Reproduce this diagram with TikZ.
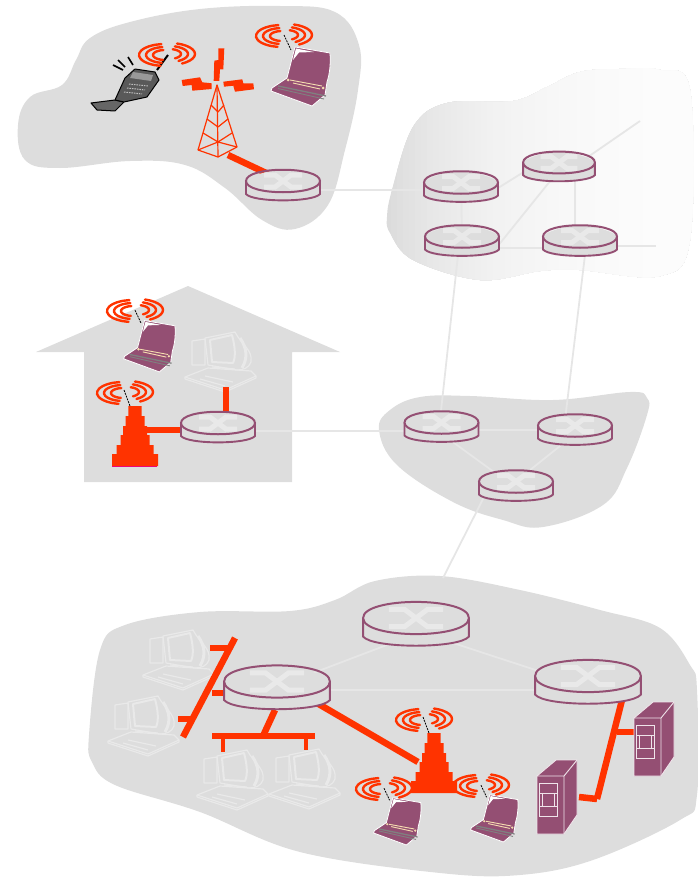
\documentclass[tikz,border=0pt]{standalone}
\definecolor{cloudgrey}{HTML}{DDDDDD}
\definecolor{linkpale}{HTML}{E6E6E6}
\definecolor{plum}{HTML}{944F73}
\definecolor{hot}{HTML}{FF3300}
\definecolor{palewhite}{HTML}{E9E9E9}
\definecolor{keytan}{HTML}{F5DDB0}
\tikzset{
  cloud/.style={fill=cloudgrey,draw=none},
  graylink/.style={draw=linkpale,line width=1.8pt},
  redlink/.style={draw=hot,line width=6.5pt},
  redthin/.style={draw=hot,line width=4pt},
  pics/routerpic/.style={code={
    \path[fill=cloudgrey] (-37,0) -- (-37,13) .. controls (-30,21.5) and (30,21.5) .. (37,13) -- (37,0) -- cycle;
    \draw[draw=plum,line width=1.9pt,fill=cloudgrey] (-37,0) -- (-37,13) .. controls (-30,21.5) and (30,21.5) .. (37,13) -- (37,0);
    \fill[cloudgrey] plot[smooth cycle,tension=.6] coordinates {(-37,0) (0,-11.5) (37,0) (0,11.5)};
    \draw[palewhite,line width=5pt] (-19,-6) -- (-8,-6) -- (8,6) -- (19,6);
    \draw[palewhite,line width=5pt] (-19,6) -- (-8,6) -- (8,-6) -- (19,-6);
    \draw[draw=plum,line width=2pt] (-37,0) .. controls (-37,-15) and (37,-15) .. (37,0) .. controls (37,15) and (-37,15) .. (-37,0) -- cycle;
  }},
  pics/wavepic/.style={code={
    \foreach \rr/\ss in {26/11,19/8,12/5}{
      \draw[hot,line width=2.4pt,line cap=round] plot[smooth,domain=100:262,samples=12] ({\rr*cos(\x)-2},{\ss*sin(\x)});
      \draw[hot,line width=2.4pt,line cap=round] plot[smooth,domain=-72:60,samples=12] ({\rr*cos(\x)+2},{\ss*sin(\x)-1});
    }
  }},
  pics/laptoppic/.style={code={
    \draw[white,line width=.8pt,fill=plum] (11,11) -- (46,17) .. controls (47,30) and (45,40) .. (43,46) -- (41,59) -- (28,70) -- (-13,55) -- (-12,52) -- (3,42) -- cycle;
    \fill[white] (12,12.5) -- (30,16) -- (15,16.5) -- (9,24) -- cycle;
    \draw[black,line width=.8pt,dash pattern=on 2pt off 1pt] (0,-1) -- (7,14);
    \draw[gray,line width=1.3pt] (-6,50) -- (42,60);
    \draw[gray,line width=.9pt] (-6,52.5) -- (40,63);
    \draw[keytan,line width=.9pt] (6,44) -- (38,50);
    \draw[keytan,line width=.9pt] (9,47) -- (36,53);
    \fill[keytan] (4,44) circle[radius=1.5] (39,52) circle[radius=1.5];
    \pic {wavepic};
  }},
  pics/desktoppic/.style={code={
    \begin{scope}[draw=palewhite,line width=1.2pt,line join=round]
      \draw (7,9) -- (20,7) -- (20,33) -- (7,33) -- cycle;
      \draw (20,6) -- (50,0) .. controls (56,12) and (68,18) .. (66,30) .. controls (64,36) and (58,38) .. (52,38) -- (23,33) -- cycle;
      \draw[line width=2pt] (25,8) -- (47,3) .. controls (50,14) and (51,25) .. (48,31) -- (27,30) -- cycle;
      \draw[line width=3pt] (55,6) .. controls (62,16) and (63,26) .. (57,36);
      \draw (0,45) -- (23,36) -- (66,39) -- (71,44) -- (40,58) -- cycle;
      \draw (0,45) -- (0,47) -- (40,60) -- (71,46) -- (71,44);
      \draw (20,44) -- (48,50);
      \draw (15,47) -- (40,54);
      \draw (27,35) -- (50,37);
    \end{scope}
  }},
  pics/serverpic/.style={code={
    \draw[white!85!plum,line width=.9pt,fill=plum,line join=round] (0,0) -- (19,-16) -- (40,-16) -- (40,39) -- (27,58) -- (0,58) -- cycle;
    \draw[white!85!plum,line width=.9pt] (0,0) -- (27,0) -- (40,-16) (27,0) -- (27,58);
    \draw[white!85!plum,line width=1pt] (2.5,7) rectangle (20.5,40.5) (2.5,17) -- (20.5,17) (2.5,30) -- (20.5,30);
    \draw[white!85!plum,line width=1pt] (5.5,17.5) rectangle (17,30);
  }},
  pics/apcone/.style={code={
    \fill[hot] (-6.7,0) -- (6.7,0) -- (6.7,10) -- (9.5,10) -- (9.5,20) -- (12,20) -- (12,29) -- (14.5,29) -- (14.5,39) -- (18.5,39) -- (18.5,48) -- (23,48) -- (23,60) -- (-23,60) -- (-23,48) -- (-18.5,48) -- (-18.5,39) -- (-14.5,39) -- (-14.5,29) -- (-12,29) -- (-12,20) -- (-9.5,20) -- (-9.5,10) -- (-6.7,10) -- cycle;
    \draw[black,line width=.8pt,dash pattern=on 2pt off 1pt] (-11,-16) -- (-5,0);
    \pic at (-10,-13) {wavepic};
  }}
}
\begin{document}
\begin{tikzpicture}[x=1pt,y=-1pt]
\useasboundingbox (0,0) rectangle (697,880);

% access-network clouds
\fill[cloud] plot[smooth cycle,tension=.65] coordinates {(18,125) (30,97) (62,85) (76,60) (90,38) (130,22) (200,9) (280,6) (335,12) (359,45) (358,90) (345,150) (328,205) (295,229) (262,220) (225,188) (185,165) (130,161) (60,168) (25,160)};
% core cloud: banded fade from grey on the left to white on the right
\foreach \bx in {385,391,...,679}{
  \pgfmathsetmacro{\bp}{14*exp(-(\bx-385)/110)}
  \begin{scope}
    \clip (\bx,60) rectangle (700,290);
    \fill[black!\bp!white] plot[smooth cycle,tension=.6] coordinates {(387,217) (392,190) (413,127) (447,103) (513,101) (547,87) (580,72) (620,69) (660,70) (690,90) (690,240) (660,276) (580,270) (540,271) (480,280) (413,260) (390,233)};
  \end{scope}
}
\fill[cloud] (188,286) -- (340,352) -- (292,352) -- (292,482) -- (84,482) -- (84,352) -- (36,352) -- cycle;
\fill[cloud] plot[smooth cycle,tension=.65] coordinates {(379,430) (390,410) (420,397) (470,396) (553,400) (630,392) (647,398) (647,415) (627,468) (603,505) (543,527) (503,520) (453,502) (397,465)};
\fill[cloud] plot[smooth cycle,tension=.6] coordinates {(89,735) (100,650) (125,625) (200,612) (290,611) (335,600) (375,581) (440,576) (520,590) (600,610) (660,628) (690,665) (697,690) (697,795) (680,820) (593,860) (520,875) (440,873) (300,852) (200,812) (115,785) (92,762)};

% named places
\coordinate (ra) at (283,181);
\coordinate (c1) at (461,182.5);
\coordinate (c2) at (559,162.5);
\coordinate (c3) at (462,236.5);
\coordinate (c4) at (580,236.5);
\coordinate (m1) at (441.5,422.5);
\coordinate (m2) at (575,425.5);
\coordinate (m3) at (516,481.5);
\coordinate (rh) at (218,423);
\coordinate (b1) at (416,618);
\coordinate (b2) at (277,681.5);
\coordinate (b3) at (588,676);
\coordinate (c2end) at (640,121);
\coordinate (c4end) at (656,246);
\coordinate (lanend) at (443,578);
\coordinate (ap1) at (434,733);
\coordinate (ap2) at (135,406);
\coordinate (towerfoot) at (228,155);
\coordinate (lan1a) at (235,638);
\coordinate (lan1b) at (183,737);
\coordinate (lan2a) at (212,736);
\coordinate (lan2b) at (315,736);
\coordinate (srv) at (597,799);
% connection ports, hidden behind the routers
\coordinate (raE) at (300,190);
\coordinate (c1W) at (440,190);
\coordinate (c1E) at (490,193);
\coordinate (c2W) at (535,165);
\coordinate (c2E) at (585,159);
\coordinate (c2S) at (555,175);
\coordinate (c2B) at (575,170);
\coordinate (c3E) at (490,248);
\coordinate (c3R) at (497,247);
\coordinate (c4N) at (575,232);
\coordinate (c4W) at (560,248);
\coordinate (c4E) at (610,246);
\coordinate (c3S) at (458,255);
\coordinate (c4S) at (585,255);
\coordinate (m1N) at (440,420);
\coordinate (m2N) at (565,420);
\coordinate (m1E) at (465,430);
\coordinate (m2W) at (560,430);
\coordinate (m1S) at (450,440);
\coordinate (m3W) at (505,480);
\coordinate (m2S) at (565,442);
\coordinate (m3E) at (520,478);
\coordinate (rhE) at (240,431);
\coordinate (m1W) at (420,431);
\coordinate (m3S) at (485,495);
\coordinate (b1W) at (400,640);
\coordinate (b2N) at (300,678);
\coordinate (b1E) at (450,642);
\coordinate (b3W) at (560,678);
\coordinate (b2E) at (310,690);
\coordinate (b3L) at (550,690);
\coordinate (homeW) at (146,430);
\coordinate (homeR) at (195,430);
\coordinate (homeT) at (226,387);
\coordinate (homeB) at (226,420);
\coordinate (apin) at (418,762);
\coordinate (b2R) at (310,699);
\coordinate (b3F) at (622,700);
\coordinate (b2L) at (250,693);
\coordinate (b2F) at (275,710);

% pale links
\draw[graylink] (raE) -- (c1W);
\draw[graylink] (c1E) -- (c2W);
\draw[graylink] (c1) -- (c3);
\draw[graylink] (c2B) -- (c4N);
\draw[graylink] (c3E) -- (c4W);
\draw[graylink] (c3R) -- (c2S);
\draw[graylink] (c2E) -- (c2end);
\draw[graylink] (c4E) -- (c4end);
\draw[graylink] (c3S) -- (m1N);
\draw[graylink] (c4S) -- (m2N);
\draw[graylink] (m1E) -- (m2W);
\draw[graylink] (m1S) -- (m3W);
\draw[graylink] (m2S) -- (m3E);
\draw[graylink] (rhE) -- (m1W);
\draw[graylink] (m3S) -- (lanend);
\draw[graylink] (b1W) -- (b2N);
\draw[graylink] (b1E) -- (b3W);
\draw[graylink] (b2E) -- (b3L);

% desktops under the red links
\pic at (185,332) {desktoppic};
\pic at (143,630) {desktoppic};
\pic at (108,696) {desktoppic};
\pic at (197,750) {desktoppic};
\pic at (269,749) {desktoppic};

% red links
\draw[redlink] (towerfoot) -- (ra);
\draw[redlink] (homeW) -- (homeR);
\draw[redlink] (homeT) -- (homeB);
\draw[redlink] (b2R) -- (apin);
\draw[redlink] (lan1a) -- (lan1b);
\draw[redlink] (210,648) -- (228,648);
\draw[redlink] (212,693) -- (b2L);
\draw[redlink] (178,719) -- (190,719);
\draw[redlink] (lan2a) -- (lan2b);
\draw[redlink] (b2F) -- (263,736);
\draw[redthin] (223,736) -- (223,752);
\draw[redthin] (306,736) -- (306,750);
\draw[redlink] (b3F) -- (srv);
\draw[redlink] (617,732) -- (634,732);
\draw[redlink] (579,797) -- (srv);

% routers
\pic at (ra) {routerpic};
\pic at (c1) {routerpic};
\pic[scale=.97] at (c2) {routerpic};
\pic at (c3) {routerpic};
\pic at (c4) {routerpic};
\pic at (m1) {routerpic};
\pic at (m2) {routerpic};
\pic at (m3) {routerpic};
\pic at (rh) {routerpic};
\pic[scale=1.43] at (b1) {routerpic};
\pic[scale=1.43] at (b2) {routerpic};
\pic[scale=1.43] at (b3) {routerpic};

% radio tower
\fill[hot] (218.3,48.3) -- (224.3,48.3) -- (223.3,69.3) -- (220,69.3) -- (219.3,81) -- (213.7,81) -- (214.3,60.7) -- (218.3,60) -- cycle;
\fill[hot] (181.7,80) -- (200,77.3) -- (202.3,82.3) -- (211.7,83.3) -- (211.7,89) -- (192.3,90.7) -- (191.7,85) -- (182.7,86) -- cycle;
\fill[hot] (223.3,81.7) -- (242.3,79.3) -- (243.3,83.3) -- (253.3,83.3) -- (254,89.3) -- (235,91.7) -- (233.3,85.7) -- (224,86.7) -- cycle;
\begin{scope}[draw=hot,line width=1.2pt,line join=round]
  \draw (217,85) -- (198,150) -- (218,157) -- (237,147) -- cycle;
  \draw (217,85) -- (218,157);
  \draw (211,105) -- (218,112) -- (224,105);
  \draw (207,119) -- (218,127) -- (228,119);
  \draw (203,133) -- (218,142) -- (232,133);
  \draw (198,150) -- (218,142) -- (237,147);
\end{scope}

% mobile phone
\begin{scope}[line join=round]
  \draw[black,line width=2pt] (168,55) -- (157,70);
  \draw[black,line width=1.6pt] (113,65) -- (123,70);
  \draw[black,line width=1.6pt] (118,60) -- (125,67);
  \draw[black,line width=1.6pt] (128,57) -- (133,65);
  \draw[black,line width=1pt,fill=black!60] (91,103) -- (115,100) -- (124,102) -- (115,111) -- (97,110) -- cycle;
  \draw[black,line width=1pt,fill=black!65] (125,78) -- (135,69) -- (155,72) -- (159,80) -- (147,97) -- (124,102) -- (115,100) -- cycle;
  \fill[black!40] (133,72) -- (153,75) -- (151,81) -- (130,78) -- cycle;
  \draw[black!25,line width=1pt,dash pattern=on 1.5pt off 1pt] (124,92) -- (142,94) (127,88) -- (145,90) (129,84) -- (148,86);
  \pic at (167,55) {wavepic};
\end{scope}

% laptops
\pic at (284,36) {laptoppic};
\pic[scale=.87] at (135,311) {laptoppic};
\pic[scale=.8] at (384,789) {laptoppic};
\pic[scale=.8] at (481,786) {laptoppic};

% base stations
\pic at (ap2) {apcone};
\draw[magenta!80!red,line width=.8pt] (112,466.3) -- (157,466.3);
\pic at (ap1) {apcone};

% servers
\pic at (634,718) {serverpic};
\pic at (537,776) {serverpic};
\end{tikzpicture}
\end{document}
